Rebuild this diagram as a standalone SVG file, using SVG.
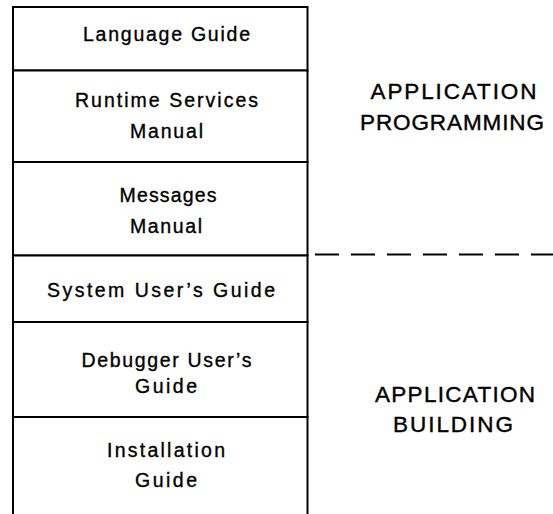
<svg xmlns="http://www.w3.org/2000/svg" width="553" height="514" viewBox="0 0 553 514">
<style>
.box{fill:#fff;stroke:#000;stroke-width:2}
.t{font-family:"Liberation Sans",Arial,sans-serif;font-size:19.5px;fill:#000;stroke:#000;stroke-width:0.35;text-anchor:middle}
.h{font-family:"Liberation Sans",Arial,sans-serif;font-size:22.5px;fill:#000;stroke:#000;stroke-width:0.4;text-anchor:middle}
.dash{stroke:#000;stroke-width:2;stroke-dasharray:24 12;fill:none}
</style>
<rect width="553" height="514" fill="#fff"/>
<g id="language-guide">
<rect class="box" x="13" y="7" width="294.5" height="63.5"/>
<text class="t" x="166.5" y="41" textLength="167" lengthAdjust="spacing">Language Guide</text>
</g>
<g id="runtime-services-manual">
<rect class="box" x="13" y="70.5" width="294.5" height="91.5"/>
<text class="t" x="166.5" y="106.5" textLength="183" lengthAdjust="spacing">Runtime Services</text>
<text class="t" x="166.5" y="138" textLength="73" lengthAdjust="spacing">Manual</text>
</g>
<g id="messages-manual">
<rect class="box" x="13" y="162" width="294.5" height="93.5"/>
<text class="t" x="168" y="201.5" textLength="97" lengthAdjust="spacing">Messages</text>
<text class="t" x="166" y="233" textLength="72" lengthAdjust="spacing">Manual</text>
</g>
<g id="system-users-guide">
<rect class="box" x="13" y="255.5" width="294.5" height="66.5"/>
<text class="t" x="161" y="296.5" textLength="228" lengthAdjust="spacing">System User’s Guide</text>
</g>
<g id="debugger-users-guide">
<rect class="box" x="13" y="322" width="294.5" height="95"/>
<text class="t" x="166.5" y="366.5" textLength="170" lengthAdjust="spacing">Debugger User’s</text>
<text class="t" x="166" y="393" textLength="62" lengthAdjust="spacing">Guide</text>
</g>
<g id="installation-guide">
<rect class="box" x="13" y="417" width="294.5" height="110"/>
<text class="t" x="166" y="456.5" textLength="118" lengthAdjust="spacing">Installation</text>
<text class="t" x="166" y="486.5" textLength="62" lengthAdjust="spacing">Guide</text>
</g>
<g id="connectors">
<line class="dash" x1="315" y1="254.5" x2="553" y2="254.5"/>
</g>
<g id="application-programming">
<text class="h" x="453.5" y="99" textLength="166" lengthAdjust="spacing">APPLICATION</text>
<text class="h" x="452" y="130" textLength="184" lengthAdjust="spacing">PROGRAMMING</text>
</g>
<g id="application-building">
<text class="h" x="455" y="401.5" textLength="160" lengthAdjust="spacing">APPLICATION</text>
<text class="h" x="453" y="431.5" textLength="120" lengthAdjust="spacing">BUILDING</text>
</g>
</svg>
